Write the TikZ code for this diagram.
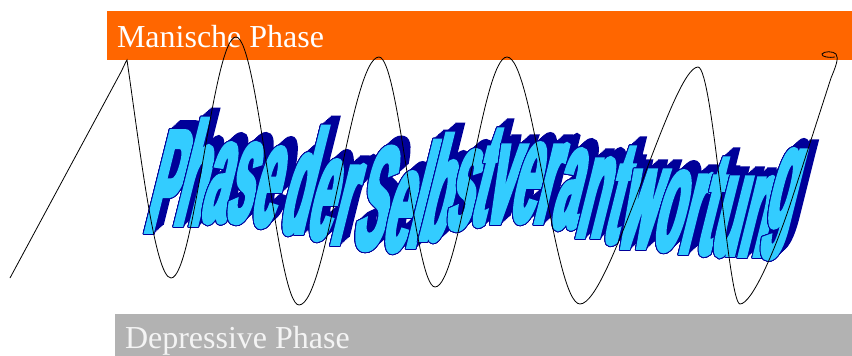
\documentclass[tikz,border=0pt]{standalone}
\usepackage{fontspec}
\setmainfont{Liberation Serif}
\newfontfamily\wafont{Liberation Sans}[FakeStretch=0.30,FakeSlant=0.25,FakeBold=2.5]
\usepackage{contour}
\contourlength{0.9pt}
\contournumber{24}
\definecolor{maniorange}{HTML}{FF6600}
\definecolor{depgray}{HTML}{B2B2B2}
\definecolor{wafill}{HTML}{33CCFF}
\definecolor{wadark}{HTML}{000099}
\definecolor{deptext}{HTML}{F4F4F4}
\tikzset{
  bartext/.style={font=\fontsize{32}{32}\selectfont, inner sep=0pt, outer sep=0pt, anchor=base west},
  waglyph/.style={font=\wafont\bfseries\fontsize{147}{147}\selectfont, inner sep=0pt, outer sep=0pt, anchor=base west},
  wave/.style={line width=0.8pt, black},
}
\begin{document}
\begin{tikzpicture}[x=1pt,y=-1pt]
\useasboundingbox (0,0) rectangle (852,356);
% bars
\fill[maniorange] (107,11) rectangle (852,60);
\fill[depgray] (115,314) rectangle (852,356);
\node[bartext, text=white] (mani) at (117,47) {Manische Phase};
\node[bartext, text=deptext] (depr) at (125,348) {Depressive Phase};
% word art: shadows first
\def\waletters{143/232/P, 172.5/225/h, 199.5/222/a, 224/222/s, 248.6/226/e,
  278/233/d, 304.6/239/e, 329.2/244/r,
  350.8/249/S, 380.3/251/e, 405/247/l, 417.2/240/b, 444.2/229/s, 468.8/225/t,
  483.5/223/v, 508/222/e, 532.6/223/r, 549.8/228/a, 574.4/237/n, 601.4/243/t,
  616.1/248/w, 650.5/250/o, 677.5/253/r, 694.7/254/t, 709.4/255/u, 736.4/256/n, 763.4/228/g}
\foreach \x/\y/\c [count=\i] in \waletters {
  \foreach \k in {1,...,8} {
    \node[waglyph, text=wadark] (s\i-\k) at ([shift={(1.25*\k,-1.125*\k)}]\x,\y) {\c};
  }
}
\foreach \x/\y/\c [count=\i] in \waletters {
  \node[waglyph, text=wafill] (w\i) at (\x,\y) {\contour{wadark}{\c}};
}
% the wave line
\draw[wave] (10,278) -- (121,72) .. controls (124,66) and (126,61) .. (127,60)
 .. controls (140,150) and (155,278) .. (171,278)
 .. controls (194,278) and (213,37) .. (236,37)
 .. controls (258,37) and (277,305) .. (299,305)
 .. controls (327,305) and (351,57) .. (379,57)
 .. controls (399,57) and (415,287) .. (435,287)
 .. controls (460,287) and (482,57) .. (507,57)
 .. controls (533,57) and (554,304) .. (580,304)
 .. controls (610,304) and (672,67) .. (698,67)
 .. controls (713,67) and (728,304) .. (740,304)
 .. controls (752,304) and (775,250) .. (790,205)
 -- (831,78) .. controls (836,66) and (839,58) .. (836,54)
 .. controls (833,51) and (824,51) .. (822,54)
 .. controls (821,57) and (830,58) .. (835,57);
\end{tikzpicture}
\end{document}
